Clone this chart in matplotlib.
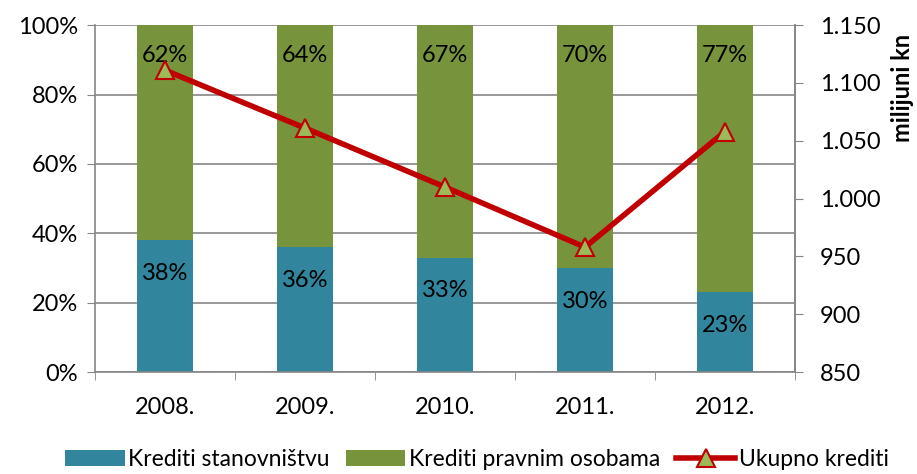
import matplotlib.pyplot as plt
import numpy as np

years = ['2008.', '2009.', '2010.', '2011.', '2012.']
stanovnistvo = [38, 36, 33, 30, 23]
pravne = [62, 64, 67, 70, 77]
ukupno = [1111, 1061, 1010, 958, 1058]

TEAL = '#31859C'
GREEN = '#77933C'
RED = '#C00000'
GRID = '#868686'

plt.rcParams['font.family'] = ['Lato', 'DejaVu Sans']
plt.rcParams['font.size'] = 17

fig = plt.figure(figsize=(9.17, 4.74), dpi=100)
ax = fig.add_axes([0.1036, 0.215, 0.7634, 0.732])
x = np.arange(len(years))

b1 = ax.bar(x, stanovnistvo, width=0.4, color=TEAL, label='Krediti stanovništvu', zorder=2)
b2 = ax.bar(x, pravne, width=0.4, bottom=stanovnistvo, color=GREEN,
            label='Krediti pravnim osobama', zorder=2)

for i in range(len(years)):
    ax.annotate(f'{stanovnistvo[i]}%', (x[i], stanovnistvo[i]), xytext=(0, -24),
                textcoords='offset points', ha='center', va='center', fontsize=17, zorder=3)
    ax.annotate(f'{pravne[i]}%', (x[i], 100), xytext=(0, -22),
                textcoords='offset points', ha='center', va='center', fontsize=17, zorder=3)

ax.set_ylim(0, 100)
ax.set_xlim(-0.5, len(years) - 0.5)
ax.set_yticks(range(0, 101, 20))
ax.set_yticklabels([f'{v}%' for v in range(0, 101, 20)])
ax.yaxis.grid(True, color=GRID, linewidth=1.2, zorder=0)
ax.set_axisbelow(True)
ax.set_xticks(x)
ax.set_xticklabels(years)
ax.set_xticks(np.arange(-0.5, len(years)), minor=True)
ax.tick_params(axis='x', which='major', length=0, pad=18)
ax.tick_params(axis='x', which='minor', length=6, color=GRID)
ax.tick_params(axis='y', length=6, color=GRID, pad=6)
ax.spines['top'].set_visible(False)
for s in ['left', 'bottom', 'right']:
    ax.spines[s].set_color(GRID)
    ax.spines[s].set_linewidth(1.2)

ax2 = ax.twinx()
ln, = ax2.plot(x, ukupno, color=RED, linewidth=4, marker='^', markersize=13,
               markerfacecolor='#9BBB59', markeredgecolor=RED, markeredgewidth=1.5,
               label='Ukupno krediti', zorder=4)
ax2.set_ylim(850, 1150)
ax2.set_yticks(range(850, 1151, 50))
ax2.set_yticklabels([f'{v:,}'.replace(',', '.') for v in range(850, 1151, 50)])
ax2.tick_params(axis='y', length=6, color=GRID, pad=12)
ax2.spines['top'].set_visible(False)
ax2.spines['right'].set_color(GRID)
ax2.spines['right'].set_linewidth(1.2)
ax2.spines['left'].set_visible(False)
ax2.spines['bottom'].set_visible(False)
ax2.set_ylabel('milijuni kn', fontweight='bold', fontsize=17)
ax2.yaxis.set_label_coords(1.137, 0.82)

fig.legend(handles=[b1, b2, ln], loc='lower center', bbox_to_anchor=(0.52, -0.035), ncol=3,
           frameon=False, fontsize=16.5, handlelength=2.6, handletextpad=0.15, columnspacing=0.7)

fig.savefig('out.png', dpi=100)
